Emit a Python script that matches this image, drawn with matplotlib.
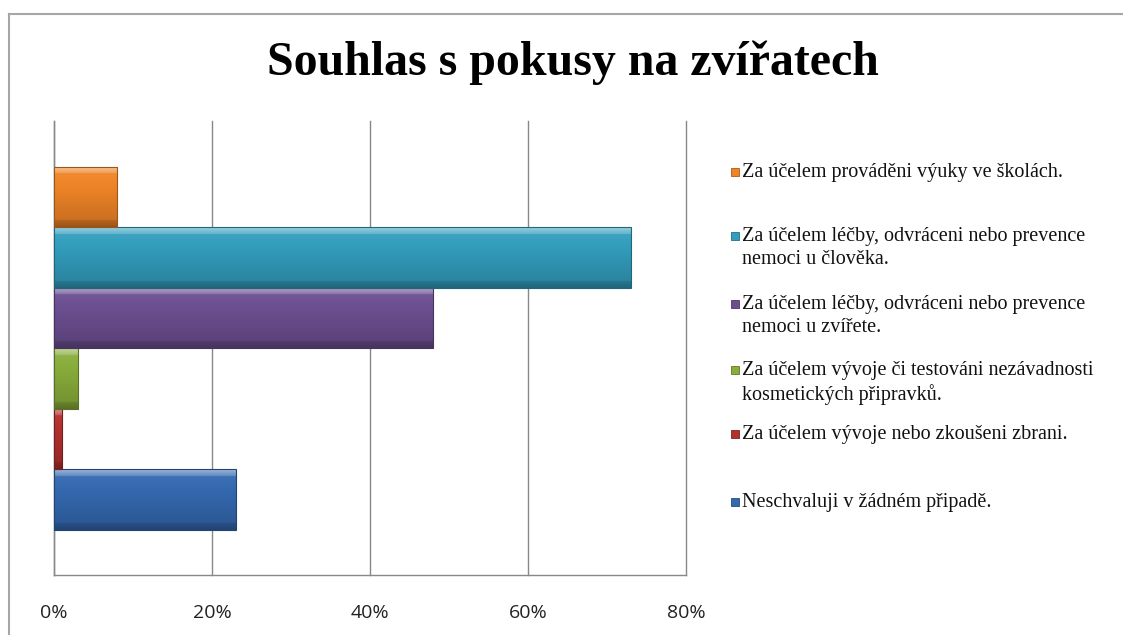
import numpy as np
import matplotlib
matplotlib.use('Agg')
import matplotlib.pyplot as plt
from matplotlib.colors import to_rgb

# data, bottom to top
labels = [
    'Neschvaluji v žádném připadě.',
    'Za účelem vývoje nebo zkoušeni zbrani.',
    'Za účelem vývoje či testováni nezávadnosti\nkosmetických připravků.',
    'Za účelem léčby, odvráceni nebo prevence\nnemoci u zvířete.',
    'Za účelem léčby, odvráceni nebo prevence\nnemoci u člověka.',
    'Za účelem prováděni výuky ve školách.',
]
values = [23, 1, 3, 48, 73, 8]
colors = ['#3469B0', '#B3302D', '#89AD3B', '#6C4F91', '#329DBD', '#EF8427']
ticks = [0, 20, 40, 60, 80]

W, H = 1123, 635
fig = plt.figure(figsize=(W / 100, H / 100), dpi=100)
fig.patch.set_facecolor('white')

# outer chart frame (only top and left visible)
fig.add_artist(plt.Line2D([9 / W, 9 / W], [0, 1 - 14 / H], color='#a6a6a6', lw=1.5))
fig.add_artist(plt.Line2D([9 / W, 1], [1 - 14 / H, 1 - 14 / H], color='#a6a6a6', lw=1.5))

ax = fig.add_axes([54 / W, (H - 575) / H, (686 - 54) / W, (575 - 121) / H])
ypos = np.arange(len(values))


def shade(c, f):
    r = np.array(to_rgb(c))
    if f > 0:
        return r + (1 - r) * f
    return r * (1 + f)


bars = ax.barh(ypos, values, height=1.0, color=colors, zorder=3)
for b, c in zip(bars, colors):
    # simple bevel: light strip on top, darker bottom
    prof = np.concatenate([np.linspace(0.5, 0.25, 6), np.linspace(0.05, -0.15, 40), np.linspace(-0.25, -0.35, 6)])
    img = np.array([shade(c, f) for f in prof])[:, None, :]
    x0, y0, w, h = b.get_x(), b.get_y(), b.get_width(), b.get_height()
    im = ax.imshow(img, extent=(x0, x0 + w, y0, y0 + h), aspect='auto', origin='upper',
                   interpolation='bilinear', zorder=3)
    im.set_clip_path(b)
    b.set_edgecolor(shade(c, -0.35))
    b.set_linewidth(0.8)
    b.set_zorder(4)
    b.set_facecolor('none')

ax.set_xlim(0, 80)
ax.set_ylim(-1.245, 6.26)
ax.set_xticks(ticks)
ax.set_xticklabels(['%d%%' % t for t in ticks], fontsize=14, family='Open Sans', color='#222222')
ax.set_yticks([])
ax.tick_params(axis='x', length=0, pad=21)
for t in ticks:
    ax.axvline(t, color='#888888', lw=1, zorder=0, clip_on=False)
for s in ['top', 'right']:
    ax.spines[s].set_visible(False)
for s in ['left', 'bottom']:
    ax.spines[s].set_color('#888888')
    ax.spines[s].set_linewidth(1)

fig.text(573 / W, 1 - 63 / H, 'Souhlas s pokusy na zvířatech', ha='center', va='center',
         fontsize=34.5, fontweight='bold', family='Liberation Serif')

# legend, laid out like the spreadsheet one (top entry first)
leg_y = [502, 434, 370, 304, 236, 172]
for lab, c, y in zip(labels, colors, leg_y):
    fig.patches.append(plt.Rectangle((731 / W, 1 - (y + 4) / H), 8 / W, 8 / H,
                                     transform=fig.transFigure, facecolor=c,
                                     edgecolor=shade(c, -0.3), lw=0.6))
    fig.text(742 / W, 1 - (y - 9) / H, lab, ha='left', va='top', fontsize=14.5,
             family='Liberation Serif', linespacing=1.25, color='#111111')

fig.savefig('out.png', dpi=100)
